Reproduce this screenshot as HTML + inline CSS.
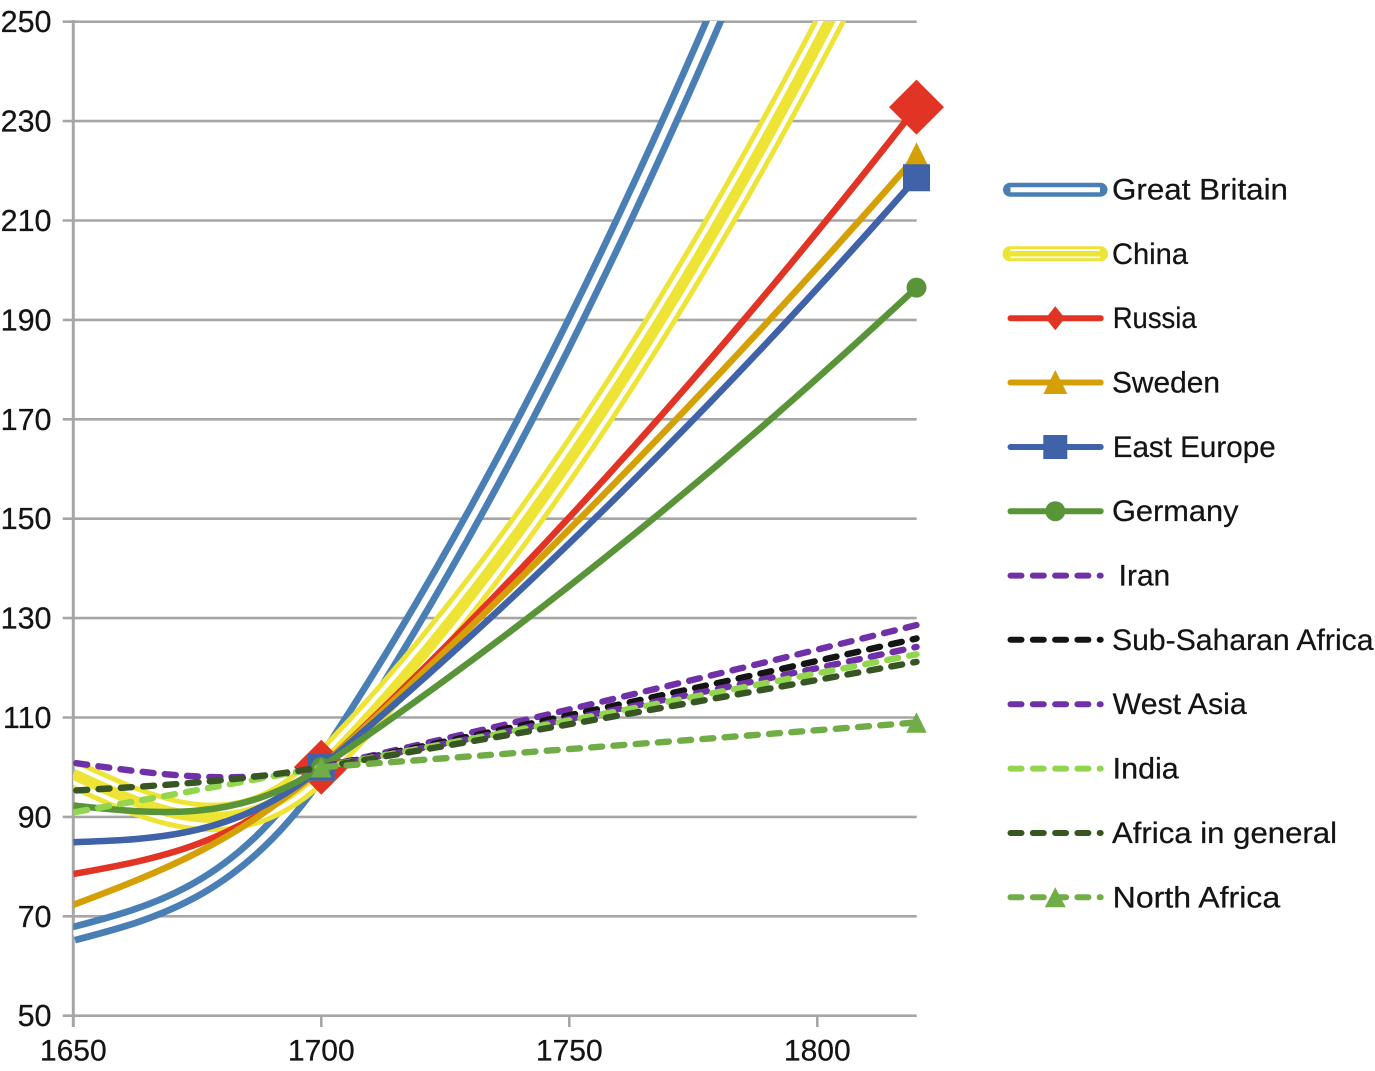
<!DOCTYPE html>
<html lang="en">
<head>
<meta charset="utf-8">
<title>Growth index by region, 1650-1820</title>
<style>
html,body{margin:0;padding:0;background:#fff;}
svg{display:block;}
text{font-family:"Liberation Sans",sans-serif;fill:#141414;stroke:#141414;stroke-width:.25;}
</style>
</head>
<body>
<svg id="chart" width="1375" height="1071" viewBox="0 0 1375 1071" xmlns="http://www.w3.org/2000/svg">
  <defs>
    <clipPath id="plot-clip"><rect x="73.3" y="21" width="900" height="1040"/></clipPath>
  </defs>
  <g id="grid"></g>
  <g id="axes"></g>
  <g id="series"></g>

  <g font-size="29.5">
    <g>
      <line x1="1010" y1="189.7" x2="1100.5" y2="189.7" stroke="#4a7fb5" stroke-width="14" stroke-linecap="round"/>
      <line x1="1010.5" y1="189.7" x2="1100" y2="189.7" stroke="#fff" stroke-width="5"/>
      <text x="1112" y="199.5" textLength="176" lengthAdjust="spacingAndGlyphs">Great Britain</text>
    </g>
    <g>
      <line x1="1010" y1="253.8" x2="1100.5" y2="253.8" stroke="#eee436" stroke-width="15" stroke-linecap="round"/>
      <line x1="1010.5" y1="253.8" x2="1100" y2="253.8" stroke="#fff" stroke-width="9"/>
      <line x1="1010.5" y1="253.8" x2="1100" y2="253.8" stroke="#eee436" stroke-width="5.5"/>
      <text x="1112" y="263.8" textLength="76" lengthAdjust="spacingAndGlyphs">China</text>
    </g>
    <g>
      <line x1="1010.5" y1="318.2" x2="1100.7" y2="318.2" stroke="#e23424" stroke-width="6" stroke-linecap="round"/>
      <polygon points="1055.3,306.2 1065,318.2 1055.3,330.2 1045.6,318.2" fill="#e23424"/>
      <text x="1112.7" y="328.2" textLength="84" lengthAdjust="spacingAndGlyphs">Russia</text>
    </g>
    <g>
      <line x1="1010.5" y1="382.5" x2="1100.7" y2="382.5" stroke="#d4a006" stroke-width="6" stroke-linecap="round"/>
      <polygon points="1055.3,370 1067.3,394 1043.3,394" fill="#d4a006"/>
      <text x="1112" y="392.5" textLength="108" lengthAdjust="spacingAndGlyphs">Sweden</text>
    </g>
    <g>
      <line x1="1010.5" y1="447" x2="1100.7" y2="447" stroke="#3f62a8" stroke-width="6" stroke-linecap="round"/>
      <rect x="1043.3" y="435" width="24" height="24" fill="#3f62a8"/>
      <text x="1112.7" y="457" textLength="163" lengthAdjust="spacingAndGlyphs">East Europe</text>
    </g>
    <g>
      <line x1="1010.5" y1="511.2" x2="1100.7" y2="511.2" stroke="#5a9439" stroke-width="6" stroke-linecap="round"/>
      <circle cx="1055.3" cy="511.2" r="10" fill="#5a9439"/>
      <text x="1112" y="521.2" textLength="126.5" lengthAdjust="spacingAndGlyphs">Germany</text>
    </g>
    <g>
      <line x1="1010.5" y1="575.6" x2="1100.7" y2="575.6" stroke="#7030a8" stroke-width="6" stroke-linecap="round" stroke-dasharray="11 11.3"/>
      <text x="1118.7" y="585.6" textLength="51.5" lengthAdjust="spacingAndGlyphs">Iran</text>
    </g>
    <g>
      <line x1="1010.5" y1="639.8" x2="1100.7" y2="639.8" stroke="#141414" stroke-width="6" stroke-linecap="round" stroke-dasharray="11 11.3"/>
      <text x="1112" y="649.8" textLength="261.5" lengthAdjust="spacingAndGlyphs">Sub-Saharan Africa</text>
    </g>
    <g>
      <line x1="1010.5" y1="704.2" x2="1100.7" y2="704.2" stroke="#7030a8" stroke-width="6" stroke-linecap="round" stroke-dasharray="11 11.3"/>
      <text x="1112.7" y="714.2" textLength="134" lengthAdjust="spacingAndGlyphs">West Asia</text>
    </g>
    <g>
      <line x1="1010.5" y1="768.6" x2="1100.7" y2="768.6" stroke="#92d650" stroke-width="6" stroke-linecap="round" stroke-dasharray="11 11.3"/>
      <text x="1112.7" y="778.6" textLength="66" lengthAdjust="spacingAndGlyphs">India</text>
    </g>
    <g>
      <line x1="1010.5" y1="833" x2="1100.7" y2="833" stroke="#375623" stroke-width="6" stroke-linecap="round" stroke-dasharray="11 11.3"/>
      <text x="1112" y="843" textLength="225" lengthAdjust="spacingAndGlyphs">Africa in general</text>
    </g>
    <g>
      <line x1="1010.5" y1="897.3" x2="1100.7" y2="897.3" stroke="#70ad47" stroke-width="6" stroke-linecap="round" stroke-dasharray="11 11.3"/>
      <polygon points="1055.3,887.3 1065.8,907.3 1044.8,907.3" fill="#70ad47"/>
      <text x="1112.7" y="907.3" textLength="167.5" lengthAdjust="spacingAndGlyphs">North Africa</text>
    </g>
  </g>
</svg>

<script>
const years = [1650, 1700, 1760, 1820];
const xTicks = [1650, 1700, 1750, 1800];
const yTicks = [50, 70, 90, 110, 130, 150, 170, 190, 210, 230, 250];

const greatBritain = [66.5, 100, 208, 353];
const china = [98.6, 100, 176.7, 285];
const russia = [78.5, 100, 161.2, 232.8];
const sweden = [72.3, 100, 158, 223];
const eastEurope = [84.9, 100, 154.8, 218.6];
const germany = [92.3, 100, 144.4, 196.5];
const iran = [100.9, 100, 114, 128.6];
const subSaharanAfrica = [null, 100, 112.6, 125.9];
const westAsia = [null, 100, 111.7, 124.2];
const india = [90.9, 100, 111.3, 122.7];
const africaInGeneral = [95.3, 100, 110.4, 121.2];
const northAfrica = [null, 100, 104.4, 109];

const NS = 'http://www.w3.org/2000/svg';
function xScale(year) { return 73.3 + (year - 1650) * 4.96; }
function yScale(v) { return 1015.7 - (v - 50) * 4.97; }

function make(tag, attrs, parent) {
  const el = document.createElementNS(NS, tag);
  for (const k in attrs) el.setAttribute(k, attrs[k]);
  parent.appendChild(el);
  return el;
}

/* Smooth curve: a parabola through the last three points, joined with
   matching slope to a cubic running back to the first point. */
function smoothPath(values) {
  const x1 = xScale(years[1]), y1 = yScale(values[1]);
  const xm = xScale(years[2]), ym = yScale(values[2]);
  const x2 = xScale(years[3]), y2 = yScale(values[3]);
  const qx = 2 * xm - (x1 + x2) / 2;
  const qy = 2 * ym - (y1 + y2) / 2;
  const right = 'Q' + qx + ' ' + qy + ' ' + x2 + ' ' + y2;
  if (values[0] === null) return 'M' + x1 + ' ' + y1 + ' ' + right;
  const x0 = xScale(years[0]), y0 = yScale(values[0]);
  const slope1 = (qy - y1) / (qx - x1);
  const chord = (y1 - y0) / (x1 - x0);
  const slope0 = (3 * chord - slope1) / 2;
  const h = (x1 - x0) / 3;
  const c1x = x0 + h, c1y = y0 + slope0 * h;
  const c2x = x1 - h, c2y = y1 - slope1 * h;
  return 'M' + x0 + ' ' + y0 + ' C' + c1x + ' ' + c1y + ' ' + c2x + ' ' + c2y + ' ' + x1 + ' ' + y1 + ' ' + right;
}

const gridG = document.getElementById('grid');
const axesG = document.getElementById('axes');
const seriesG = document.getElementById('series');

yTicks.forEach(function (t) {
  const line = make('line', { x1: 62.7, x2: 916.7, y1: yScale(t), y2: yScale(t), stroke: '#a6a6a6', 'stroke-width': 2.6 }, gridG);
  
  
  const label = make('text', { x: 51.5, y: yScale(t) + 10.5, 'text-anchor': 'end', 'font-size': 30.5 }, axesG);
  label.textContent = String(t);
  
  
});

const yAxis = make('line', { x1: 73.3, x2: 73.3, y1: 20, y2: 1027, stroke: '#a6a6a6', 'stroke-width': 3 }, axesG);



xTicks.forEach(function (t) {
  const tick = make('line', { x1: xScale(t), x2: xScale(t), y1: 1015.7, y2: 1027, stroke: '#a6a6a6', 'stroke-width': 2.6 }, axesG);
  
  
  const label = make('text', { x: xScale(t), y: 1060.5, 'text-anchor': 'middle', 'font-size': 30 }, axesG);
  label.textContent = String(t);
  
  
});

function solid(name, values, color) {
  const p = make('path', { d: smoothPath(values), fill: 'none', stroke: color, 'stroke-width': 6.5, 'clip-path': 'url(#plot-clip)' }, seriesG);
  
  
}
function dashed(name, values, color) {
  const p = make('path', { d: smoothPath(values), fill: 'none', stroke: color, 'stroke-width': 6.4, 'stroke-linecap': 'round', 'stroke-dasharray': '11 11.3', 'stroke-dashoffset': -3 }, seriesG);
  
  
}
function striped(name, values, color, widths) {
  widths.forEach(function (w, i) {
    const stroke = i % 2 === 0 ? color : '#ffffff';
    const p = make('path', { d: smoothPath(values), fill: 'none', stroke: stroke, 'stroke-width': w, 'clip-path': 'url(#plot-clip)' }, seriesG);
    
    
  });
}
function markers(name, values, color, shape, size) {
  [1, 3].forEach(function (i) {
    const cx = xScale(years[i]);
    const cy = yScale(values[i]);
    const h = size / 2;
    let m;
    if (shape === 'diamond') {
      m = make('polygon', { points: cx + ',' + (cy - h) + ' ' + (cx + h) + ',' + cy + ' ' + cx + ',' + (cy + h) + ' ' + (cx - h) + ',' + cy, fill: color }, seriesG);
    } else if (shape === 'triangle') {
      m = make('polygon', { points: cx + ',' + (cy - h) + ' ' + (cx + h) + ',' + (cy + h) + ' ' + (cx - h) + ',' + (cy + h), fill: color }, seriesG);
    } else if (shape === 'square') {
      m = make('rect', { x: cx - h, y: cy - h, width: size, height: size, fill: color }, seriesG);
    } else {
      m = make('circle', { cx: cx, cy: cy, r: h, fill: color }, seriesG);
    }
    
    
  });
}

striped('great-britain', greatBritain, '#4a7fb5', [20, 6.5]);
striped('china', china, '#eee436', [29.5, 19.5, 11]);
solid('russia', russia, '#e23424');
markers('russia', russia, '#e23424', 'diamond', 55);
solid('sweden', sweden, '#d4a006');
markers('sweden', sweden, '#d4a006', 'triangle', 27);
solid('east-europe', eastEurope, '#3f62a8');
markers('east-europe', eastEurope, '#3f62a8', 'square', 27);
solid('germany', germany, '#5a9439');
markers('germany', germany, '#5a9439', 'circle', 20);
dashed('iran', iran, '#7030a8');
dashed('sub-saharan-africa', subSaharanAfrica, '#141414');
dashed('west-asia', westAsia, '#7030a8');
dashed('india', india, '#92d650');
dashed('africa-in-general', africaInGeneral, '#375623');
dashed('north-africa', northAfrica, '#70ad47');
markers('north-africa', northAfrica, '#70ad47', 'triangle', 20.5);
</script>
</body>
</html>
